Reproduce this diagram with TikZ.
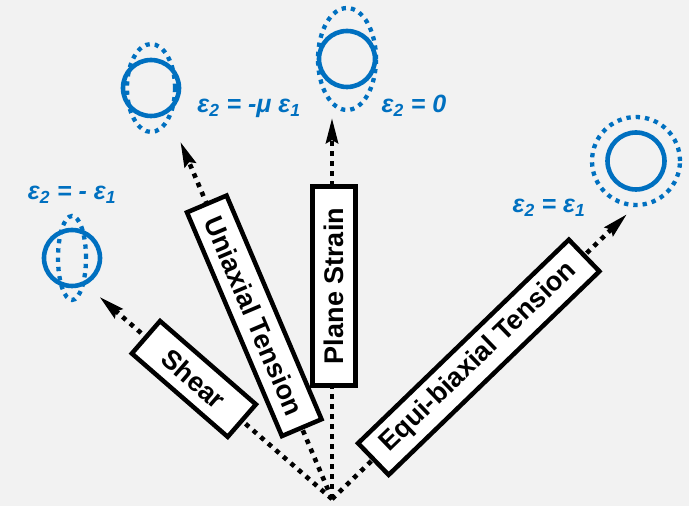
\documentclass[tikz,border=0pt]{standalone}
\usepackage{fontspec}
\setmainfont{Liberation Sans}
\usetikzlibrary{arrows.meta,calc}
\definecolor{strainblue}{HTML}{0070C0}
\definecolor{canvas}{HTML}{F2F2F2}

\begin{document}
\begin{tikzpicture}[x=1pt,y=1pt,
  modebox/.style={rectangle, draw=black, line width=4.5pt, fill=white,
    inner sep=0pt, minimum height=43pt,
    font=\fontsize{27}{30}\selectfont\bfseries},
  loadpath/.style={line width=4.6pt, dash pattern=on 4.6pt off 5.4pt},
  loadarrow/.style={loadpath, -{Stealth[length=25pt,width=12pt,inset=3pt]}},
  strainlabel/.style={anchor=base, text=strainblue,
    font=\fontsize{25}{28}\selectfont\bfseries\itshape},
  original/.style={draw=strainblue, line width=4.6pt},
  deformed/.style={draw=strainblue, line width=4.3pt, dash pattern=on 4.3pt off 5pt}
]
\fill[canvas] (0,0) rectangle (689,506);
\useasboundingbox (0,0) rectangle (689,506);

% common origin of the loading paths
\coordinate (O) at (332,7);

% arrow tips
\coordinate (shearTip) at ($(O)+(139:308)$);
\coordinate (uniTip)   at ($(O)+(113:388)$);
\coordinate (planeTip) at ($(O)+(90:381)$);
\coordinate (equiTip)  at ($(O)+(44:410)$);

% loading paths
\draw[loadpath]  (O) -- ($(O)+(139:183)$) coordinate (shearMid);
\draw[loadpath]  (O) -- ($(O)+(113:199)$) coordinate (uniMid);
\draw[loadpath]  (O) -- ($(O)+(90:213)$)  coordinate (planeMid);
\draw[loadpath]  (O) -- ($(O)+(44:204)$)  coordinate (equiMid);
\draw[loadarrow] (shearMid) -- (shearTip);
\draw[loadarrow] (uniMid)   -- (uniTip);
\draw[loadarrow] (planeMid) -- (planeTip);
\draw[loadarrow] (equiMid)  -- (equiTip);

% mode boxes
\node[modebox, minimum width=127pt, rotate=-41] (shear) at (shearMid) {Shear};
\node[modebox, minimum width=243pt, rotate=-67] (uni)   at (uniMid)   {Uniaxial Tension};
\node[modebox, minimum width=199pt, rotate=90]  (plane) at ($(planeMid)+(2,0)$) {Plane Strain};
\node[modebox, minimum width=293pt, minimum height=44pt, rotate=44] (equi) at (equiMid) {Equi-biaxial Tension};

% strain states: original circle and deformed shape
\draw[deformed] (72,248) ellipse [x radius=14, y radius=42];
\draw[original] (72,248) circle [radius=28];

\draw[deformed] (151,418) ellipse [x radius=24, y radius=44];
\draw[original] (151,418) circle [radius=28];

\draw[deformed] (347,447) ellipse [x radius=29, y radius=51];
\draw[original] (347,447) circle [radius=28];

\draw[deformed] (636,345) circle [radius=44];
\draw[original] (636,345) circle [radius=28.5];

% strain relations
\node[strainlabel] (shearEq) at (72,306)  {ε\textsubscript{2} = - ε\textsubscript{1}};
\node[strainlabel] (uniEq)   at (249,393) {ε\textsubscript{2} = -μ ε\textsubscript{1}};
\node[strainlabel] (planeEq) at (414,393) {ε\textsubscript{2} = 0};
\node[strainlabel] (equiEq)  at (549,293) {ε\textsubscript{2} = ε\textsubscript{1}};
\end{tikzpicture}
\end{document}
